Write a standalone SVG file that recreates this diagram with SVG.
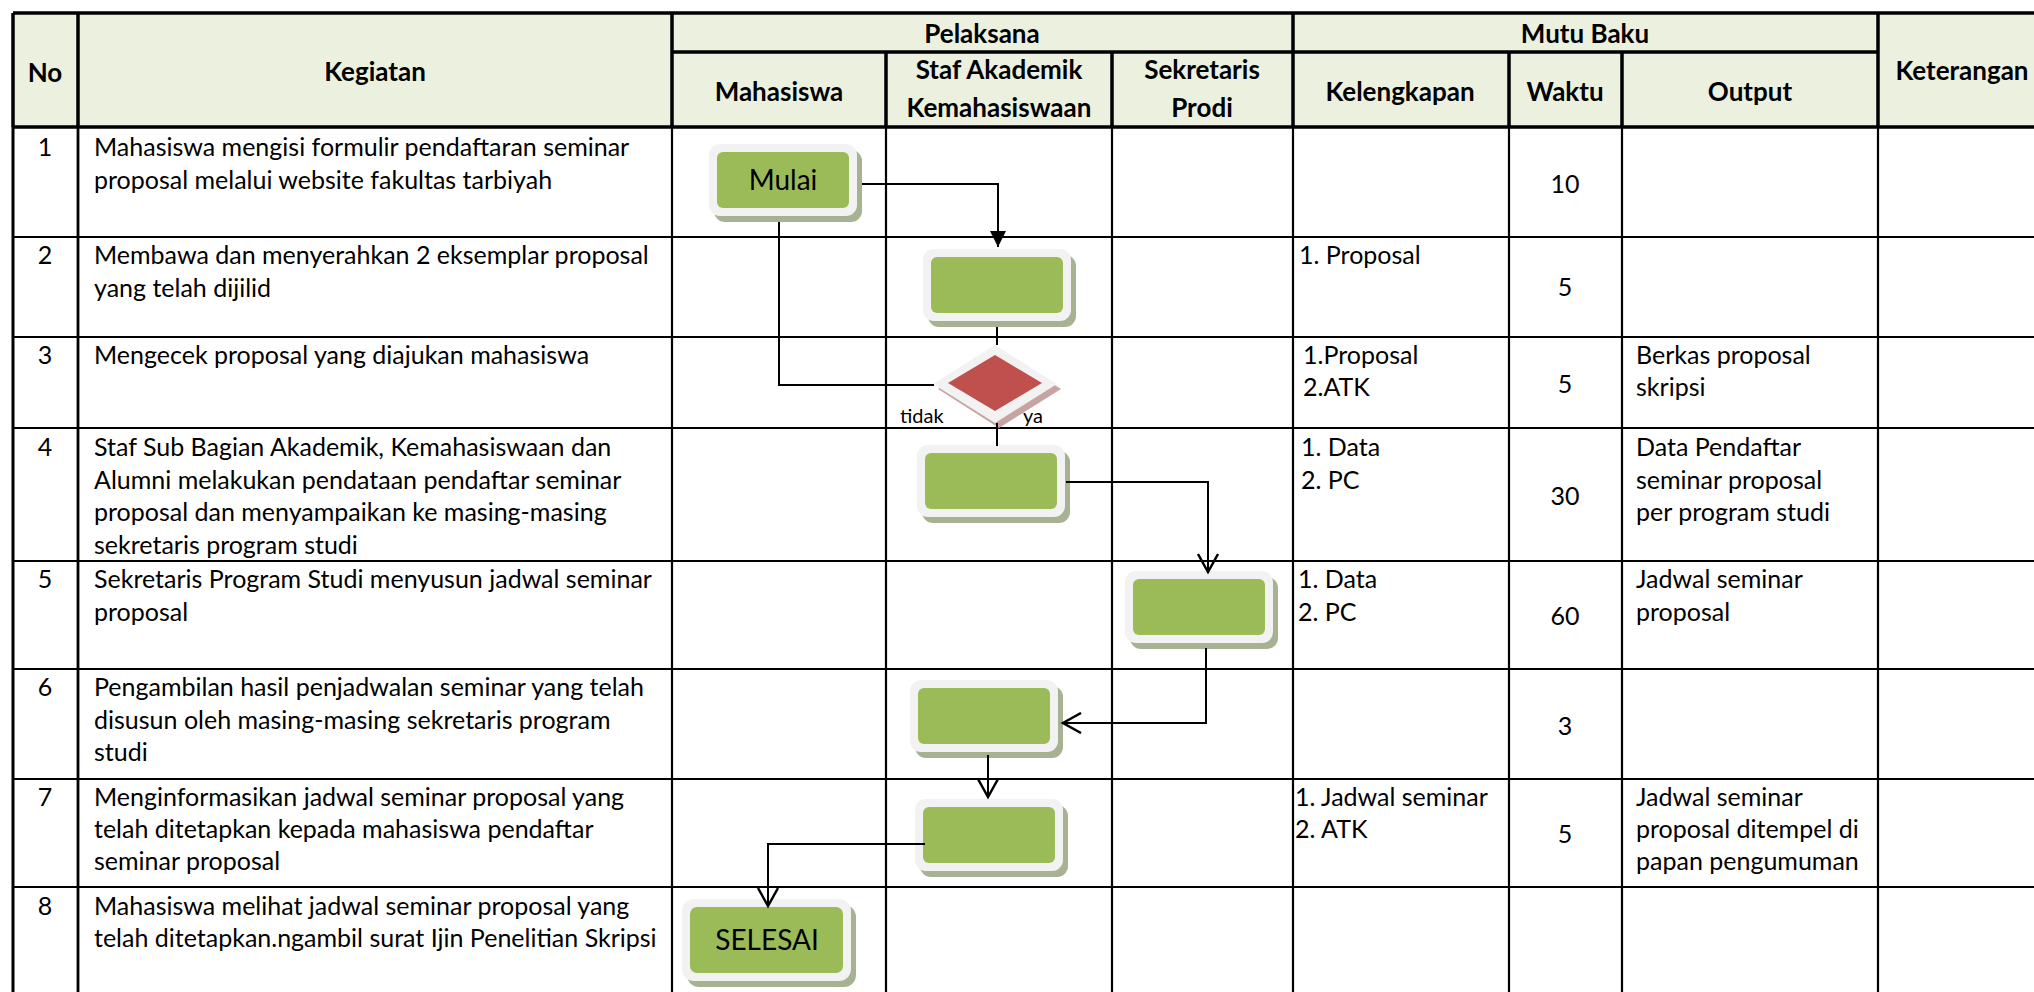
<svg xmlns="http://www.w3.org/2000/svg" width="2034" height="992" viewBox="0 0 2034 992">
<defs>
<style>
.tk{stroke:#000;stroke-width:3.5;fill:none}
.tn{stroke:#000;stroke-width:2.2;fill:none}
text{font-family:Lato,"Liberation Sans",sans-serif;fill:#000}
.h{font-weight:bold;font-size:26px;text-anchor:middle}
.b{font-size:25px}
.c{text-anchor:middle}
.sh{fill:#a6b292}
.fr{fill:#f2f2f2}
.gr{fill:#9bbb59}
.dsh{fill:#c9a3a2}
.red{fill:#c0504d}
.con{stroke:#000;stroke-width:2;fill:none}
.lbl{font-size:28px;text-anchor:middle}
.sm{font-size:20px}
</style>
<marker id="arrF" viewBox="0 0 16 16" refX="16" refY="8" markerWidth="16" markerHeight="16" markerUnits="userSpaceOnUse" orient="auto">
<path d="M0,0 L16,8 L0,16 Z" fill="#000"/>
</marker>
<marker id="arrO" viewBox="0 0 22 22" refX="19" refY="11" markerWidth="22" markerHeight="22" markerUnits="userSpaceOnUse" orient="auto">
<path d="M1,1 L19,11 L1,21" fill="none" stroke="#000" stroke-width="2.5"/>
</marker>
</defs>
<rect x="0" y="0" width="2034" height="992" fill="#fff"/>
<rect x="13" y="13" width="2021" height="114" fill="#ebf1de"/>

<g id="grid">
<path class="tn" d="M13,237 H2034 M13,337 H2034 M13,428 H2034 M13,561 H2034 M13,669 H2034 M13,779 H2034 M13,887 H2034"/>
<path class="tn" d="M672,127 V992 M886,127 V992 M1112,127 V992 M1293,127 V992 M1509,127 V992 M1622,127 V992 M1878,127 V992"/>
<path class="tn" d="M78,127 V992" style="stroke-width:2.8"/>
<path class="tn" d="M13,127 V992" style="stroke-width:3"/>
<path class="tk" d="M13,13 H2034 M672,52 H1878 M13,127 H2034 M13,13 V127 M78,13 V127 M672,13 V127 M1293,13 V127 M1878,13 V127 M886,52 V127 M1112,52 V127 M1509,52 V127 M1622,52 V127"/>
</g>

<g id="header">
<text class="h" x="45" y="82">No</text>
<text class="h" x="375" y="81">Kegiatan</text>
<text class="h" x="982" y="43">Pelaksana</text>
<text class="h" x="1585" y="43">Mutu Baku</text>
<text class="h" x="1962" y="80">Keterangan</text>
<text class="h" x="779" y="101">Mahasiswa</text>
<text class="h" x="999" y="79">Staf Akademik</text>
<text class="h" x="999" y="117">Kemahasiswaan</text>
<text class="h" x="1202" y="79">Sekretaris</text>
<text class="h" x="1202" y="117">Prodi</text>
<text class="h" x="1400" y="101">Kelengkapan</text>
<text class="h" x="1565" y="101">Waktu</text>
<text class="h" x="1750" y="101">Output</text>
</g>

<g id="rows" class="b">
<text class="c" x="45" y="156">1</text>
<text x="94" y="156">Mahasiswa mengisi formulir pendaftaran seminar</text>
<text x="94" y="189">proposal melalui website fakultas tarbiyah</text>
<text class="c" x="1565" y="193">10</text>

<text class="c" x="45" y="264">2</text>
<text x="94" y="264">Membawa dan menyerahkan 2 eksemplar proposal</text>
<text x="94" y="297">yang telah dijilid</text>
<text x="1299" y="264">1. Proposal</text>
<text class="c" x="1565" y="296">5</text>

<text class="c" x="45" y="364">3</text>
<text x="94" y="364">Mengecek proposal yang diajukan mahasiswa</text>
<text x="1303" y="364">1.Proposal</text>
<text x="1303" y="396">2.ATK</text>
<text class="c" x="1565" y="393">5</text>
<text x="1636" y="364">Berkas proposal</text>
<text x="1636" y="396">skripsi</text>

<text class="c" x="45" y="456">4</text>
<text x="94" y="456">Staf Sub Bagian Akademik, Kemahasiswaan dan</text>
<text x="94" y="489">Alumni melakukan pendataan pendaftar seminar</text>
<text x="94" y="521">proposal dan menyampaikan ke masing-masing</text>
<text x="94" y="554">sekretaris program studi</text>
<text x="1301" y="456">1. Data</text>
<text x="1301" y="489">2. PC</text>
<text class="c" x="1565" y="505">30</text>
<text x="1636" y="456">Data Pendaftar</text>
<text x="1636" y="489">seminar proposal</text>
<text x="1636" y="521">per program studi</text>

<text class="c" x="45" y="588">5</text>
<text x="94" y="588">Sekretaris Program Studi menyusun jadwal seminar</text>
<text x="94" y="621">proposal</text>
<text x="1298" y="588">1. Data</text>
<text x="1298" y="621">2. PC</text>
<text class="c" x="1565" y="625">60</text>
<text x="1636" y="588">Jadwal seminar</text>
<text x="1636" y="621">proposal</text>

<text class="c" x="45" y="696">6</text>
<text x="94" y="696">Pengambilan hasil penjadwalan seminar yang telah</text>
<text x="94" y="729">disusun oleh masing-masing sekretaris program</text>
<text x="94" y="761">studi</text>
<text class="c" x="1565" y="735">3</text>

<text class="c" x="45" y="806">7</text>
<text x="94" y="806">Menginformasikan jadwal seminar proposal yang</text>
<text x="94" y="838">telah ditetapkan kepada mahasiswa pendaftar</text>
<text x="94" y="870">seminar proposal</text>
<text x="1295" y="806">1. Jadwal seminar</text>
<text x="1295" y="838">2. ATK</text>
<text class="c" x="1565" y="843">5</text>
<text x="1636" y="806">Jadwal seminar</text>
<text x="1636" y="838">proposal ditempel di</text>
<text x="1636" y="870">papan pengumuman</text>

<text class="c" x="45" y="915">8</text>
<text x="94" y="915">Mahasiswa melihat jadwal seminar proposal yang</text>
<text x="94" y="947">telah ditetapkan.ngambil surat Ijin Penelitian Skripsi</text>
</g>

<g id="node-mulai">
<rect class="sh" x="714" y="150" width="148" height="72" rx="11"/>
<rect class="fr" x="709" y="144" width="148" height="72" rx="11"/>
<rect class="gr" x="717" y="152" width="132" height="56" rx="6"/>
<text class="lbl" x="783" y="190">Mulai</text>
</g>
<g id="node-2">
<rect class="sh" x="928" y="255" width="148" height="72" rx="11"/>
<rect class="fr" x="923" y="249" width="148" height="72" rx="11"/>
<rect class="gr" x="931" y="257" width="132" height="56" rx="6"/>
</g>
<g id="node-decision">
<polygon class="dsh" points="999,350 1061,389 999,428 938,389"/>
<polygon class="fr" points="995,345 1057,384 995,423 933,384"/>
<polygon class="red" points="995,355 1042,383 995,411 948,383"/>
<text class="sm" x="900" y="423">tidak</text>
<text class="sm" x="1023" y="423">ya</text>
</g>
<g id="node-4">
<rect class="sh" x="922" y="451" width="148" height="72" rx="11"/>
<rect class="fr" x="917" y="445" width="148" height="72" rx="11"/>
<rect class="gr" x="925" y="453" width="132" height="56" rx="6"/>
</g>
<g id="node-5">
<rect class="sh" x="1130" y="577" width="148" height="72" rx="11"/>
<rect class="fr" x="1125" y="571" width="148" height="72" rx="11"/>
<rect class="gr" x="1133" y="579" width="132" height="56" rx="6"/>
</g>
<g id="node-6">
<rect class="sh" x="915" y="686" width="148" height="72" rx="11"/>
<rect class="fr" x="910" y="680" width="148" height="72" rx="11"/>
<rect class="gr" x="918" y="688" width="132" height="56" rx="6"/>
</g>
<g id="node-7">
<rect class="sh" x="920" y="805" width="148" height="72" rx="11"/>
<rect class="fr" x="915" y="799" width="148" height="72" rx="11"/>
<rect class="gr" x="923" y="807" width="132" height="56" rx="6"/>
</g>
<g id="node-selesai">
<rect class="sh" x="687" y="905" width="169" height="82" rx="12"/>
<rect class="fr" x="682" y="899" width="169" height="82" rx="12"/>
<rect class="gr" x="690" y="907" width="153" height="66" rx="7"/>
<text class="lbl" x="767" y="950">SELESAI</text>
</g>

<g id="connectors">
<path class="con" d="M862,184 H998 V247" marker-end="url(#arrF)"/>
<path class="con" d="M779,222 V385 H934"/>
<path class="con" d="M997,327 V345"/>
<path class="con" d="M997,423 V446"/>
<path class="con" d="M1066,482 H1208 V572" marker-end="url(#arrO)"/>
<path class="con" d="M1206,648 V723 H1063" marker-end="url(#arrO)"/>
<path class="con" d="M988,755 V797" marker-end="url(#arrO)"/>
<path class="con" d="M925,844 H768 V906" marker-end="url(#arrO)"/>
</g>
</svg>
